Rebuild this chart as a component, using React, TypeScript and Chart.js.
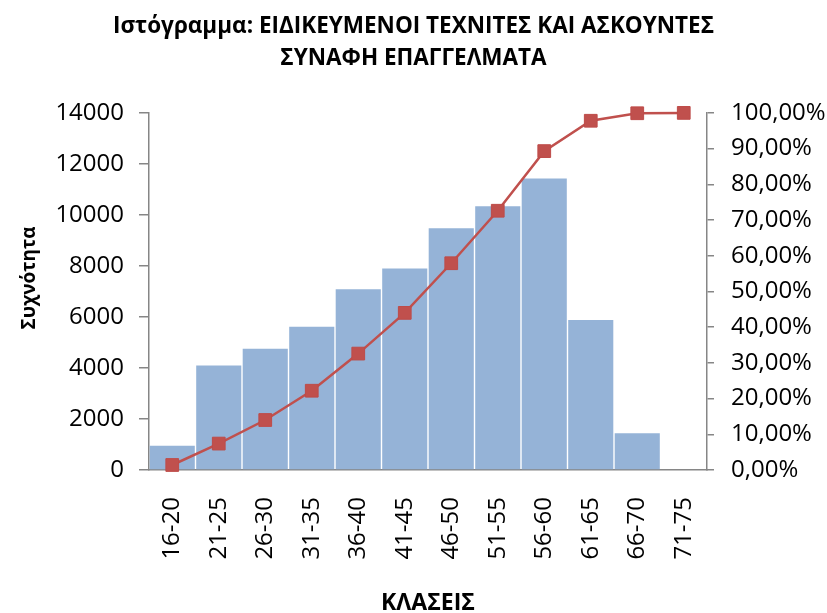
import React, { useEffect, useRef } from "react";
import { Chart, registerables } from "chart.js";

Chart.register(...registerables);

const categories = ["16-20", "21-25", "26-30", "31-35", "36-40", "41-45", "46-50", "51-55", "56-60", "61-65", "66-70", "71-75"];
const frequencies = [950, 4100, 4750, 5620, 7085, 7895, 9480, 10340, 11425, 5880, 1440, 0];
const cumulativePercent = [1.4, 7.4, 14.0, 22.2, 32.6, 44.0, 57.9, 72.6, 89.3, 97.8, 99.9, 100];
const leftTicks = [0, 2000, 4000, 6000, 8000, 10000, 12000, 14000];
const rightTicks = [0, 10, 20, 30, 40, 50, 60, 70, 80, 90, 100];
const titleLines = ["Ιστόγραμμα: ΕΙΔΙΚΕΥΜΕΝΟΙ ΤΕΧΝΙΤΕΣ ΚΑΙ ΑΣΚΟΥΝΤΕΣ", "ΣΥΝΑΦΗ ΕΠΑΓΓΕΛΜΑΤΑ"];
const yTitle = "Συχνότητα";
const xTitle = "ΚΛΑΣΕΙΣ";

const FONT = "'Open Sans', 'Noto Sans', sans-serif";
const AXIS = "#868686";
const TICK_SIZE = 24;

export default function App() {
  const ref = useRef<HTMLCanvasElement | null>(null);

  useEffect(() => {
    if (!ref.current) return;
    const yTitlePlugin = {
      id: "yTitlePlugin",
      afterDraw(chart: any) {
        const ctx = chart.ctx;
        ctx.save();
        ctx.translate(35, 278);
        ctx.rotate(-Math.PI / 2);
        ctx.font = `bold 19px ${FONT}`;
        ctx.fillStyle = "#000";
        ctx.textAlign = "center";
        ctx.textBaseline = "alphabetic";
        ctx.fillText(yTitle, 0, 0);
        ctx.restore();
      },
    };
    const chart = new Chart(ref.current, {
      type: "bar",
      data: {
        labels: categories,
        datasets: [
          {
            type: "line",
            data: cumulativePercent,
            yAxisID: "y1",
            borderColor: "#C0504D",
            backgroundColor: "#C0504D",
            borderWidth: 2.5,
            pointStyle: "rect",
            pointRadius: 9,
            pointBackgroundColor: "#C0504D",
            pointBorderColor: "#BE4B48",
            pointBorderWidth: 1,
            tension: 0,
            clip: false,
            order: 0,
          } as any,
          {
            type: "bar",
            data: frequencies,
            yAxisID: "y",
            backgroundColor: "#95B3D7",
            borderWidth: 0,
            barPercentage: 1,
            categoryPercentage: 0.97,
            order: 1,
          },
        ],
      },
      options: {
        responsive: false,
        animation: false,
        events: [],
        layout: { padding: 0 },
        plugins: {
          legend: { display: false },
          tooltip: { enabled: false },
          title: {
            display: true,
            text: titleLines,
            color: "#000",
            font: { family: FONT, size: 22.5, weight: "bold", lineHeight: 1.42 },
            padding: { top: 11, bottom: 38 },
          },
        },
        scales: {
          x: {
            afterFit: (s: any) => { s.height = 143; },
            grid: { display: false, drawTicks: false },
            border: { display: true, color: AXIS, width: 1.5 },
            ticks: {
              minRotation: 90,
              maxRotation: 90,
              padding: 27,
              color: "#000",
              font: { family: FONT, size: TICK_SIZE },
            },
            title: {
              display: true,
              text: xTitle,
              color: "#000",
              font: { family: FONT, size: 23, weight: "bold", lineHeight: 0.8 },
              padding: { top: 0, bottom: 0 },
            },
          },
          y: {
            position: "left",
            min: 0,
            max: 14000,
            afterFit: (s: any) => { s.width = 149; },
            afterBuildTicks: (s: any) => { s.ticks = leftTicks.map((v) => ({ value: v })); },
            grid: { drawOnChartArea: false, drawTicks: true, tickLength: 10, color: AXIS, lineWidth: 1.5 },
            border: { display: true, color: AXIS, width: 1.5 },
            ticks: {
              padding: 15,
              color: "#000",
              font: { family: FONT, size: TICK_SIZE },
              callback: (v: any) => String(v),
            },
          },
          y1: {
            position: "right",
            min: 0,
            max: 100,
            afterFit: (s: any) => { s.width = 120; },
            afterBuildTicks: (s: any) => { s.ticks = rightTicks.map((v) => ({ value: v })); },
            grid: { drawOnChartArea: false, drawTicks: true, tickLength: 7, color: AXIS, lineWidth: 1.5 },
            border: { display: true, color: AXIS, width: 1.5 },
            ticks: {
              padding: 17,
              color: "#000",
              font: { family: FONT, size: TICK_SIZE },
              callback: (v: any) => Number(v).toFixed(2).replace(".", ",") + "%",
            },
          },
        },
      },
      plugins: [yTitlePlugin],
    });
    return () => chart.destroy();
  }, []);

  return (
    <div style={{ position: "absolute", left: 0, top: 0, width: 827, height: 613, background: "#fff" }}>
      <canvas ref={ref} width={827} height={613} style={{ display: "block" }} />
    </div>
  );
}
